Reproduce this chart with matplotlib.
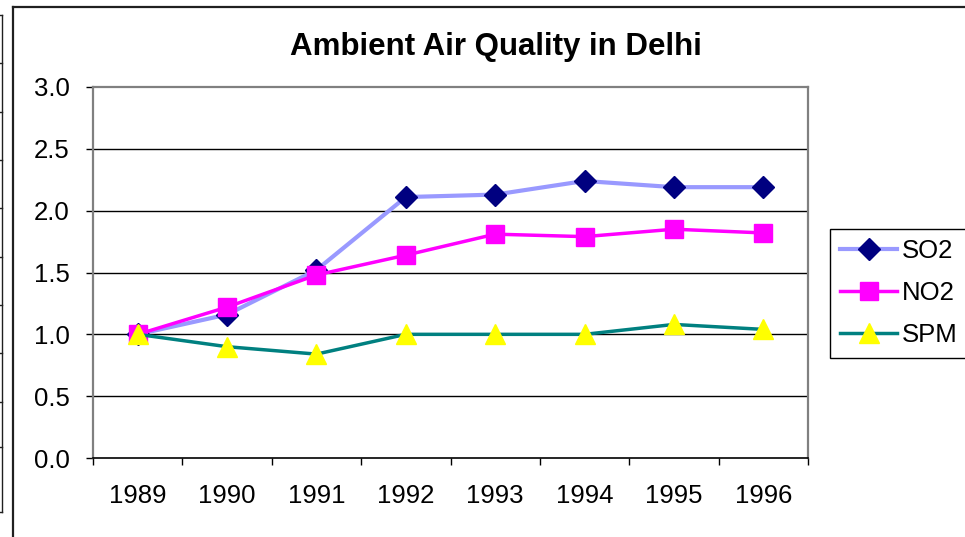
import matplotlib
matplotlib.use('Agg')
import matplotlib.pyplot as plt
from matplotlib.lines import Line2D
import numpy as np

plt.rcParams['font.family'] = ['Liberation Sans', 'DejaVu Sans']

years = ['1989', '1990', '1991', '1992', '1993', '1994', '1995', '1996']
so2 = [1.00, 1.16, 1.52, 2.11, 2.13, 2.24, 2.19, 2.19]
no2 = [1.00, 1.22, 1.48, 1.64, 1.81, 1.79, 1.85, 1.82]
spm = [1.00, 0.90, 0.84, 1.00, 1.00, 1.00, 1.08, 1.04]

W, H = 965, 537
fig = plt.figure(figsize=(W / 100, H / 100), dpi=100)


def fx(px):
    return px / W


def fy(py):
    return 1 - py / H


# left-over frame lines of the chart area
outer = dict(transform=fig.transFigure, color='#202020')
fig.add_artist(Line2D([fx(13), 1], [fy(7), fy(7)], lw=1.6, **outer))
fig.add_artist(Line2D([fx(13), fx(13)], [fy(7), 0], lw=1.6, **outer))
fig.add_artist(Line2D([fx(2), fx(2)], [fy(15), fy(512)], lw=1.0, **outer))
for ty in [15, 63, 112, 160, 208, 257, 305, 353, 402, 447, 512]:
    fig.add_artist(Line2D([0, fx(2)], [fy(ty), fy(ty)], lw=1.0, **outer))

ax = fig.add_axes([fx(93), fy(458), fx(808) - fx(93), fy(87) - fy(458)])
x = np.arange(len(years))

ax.plot(x, so2, color='#9999FF', lw=3, marker='D', ms=11,
        mfc='#000080', mec='#000080', label='SO2', zorder=3)
ax.plot(x, no2, color='#FF00FF', lw=2.5, marker='s', ms=13.5,
        mfc='#FF00FF', mec='#FF00FF', label='NO2', zorder=4)
ax.plot(x, spm, color='#008080', lw=2.5, marker='^', ms=15,
        mfc='#FFFF00', mec='#FFFF00', label='SPM', zorder=5)

ax.set_ylim(0, 3)
ax.set_yticks(np.arange(0, 3.01, 0.5))
ax.set_yticklabels([f'{v:.1f}' for v in np.arange(0, 3.01, 0.5)], fontsize=18.5)
for v in [0.5, 1.0, 1.5, 2.0, 2.5]:
    ax.axhline(v, color='black', lw=1.0, zorder=1)

ax.set_xlim(-0.5, len(years) - 0.5)
ax.set_xticks(np.arange(-0.5, len(years), 1))
ax.set_xticklabels([])
ax.set_xticks(x, minor=True)
ax.set_xticklabels(years, minor=True, fontsize=18.5)
ax.tick_params(axis='x', which='minor', length=0, pad=19)
ax.tick_params(axis='x', which='major', length=5, direction='out', width=1)
ax.tick_params(axis='y', length=5, direction='out', width=1, pad=12)

for side in ['top', 'right', 'left']:
    ax.spines[side].set_color('#808080')
    ax.spines[side].set_linewidth(1.6)
ax.spines['bottom'].set_color('black')
ax.spines['bottom'].set_linewidth(1.2)

fig.text(fx(496), fy(47), 'Ambient Air Quality in Delhi', ha='center',
         va='center', fontsize=22.5, fontweight='bold')

leg = ax.legend(loc='upper left', bbox_to_anchor=(fx(830), fy(229)),
                bbox_transform=fig.transFigure, borderaxespad=0,
                fancybox=False, edgecolor='black', fontsize=18.5,
                handlelength=2.2, handletextpad=0.2, labelspacing=0.7,
                borderpad=0.4, framealpha=1)
leg.get_frame().set_linewidth(1.0)

fig.savefig('out.png', dpi=100)
